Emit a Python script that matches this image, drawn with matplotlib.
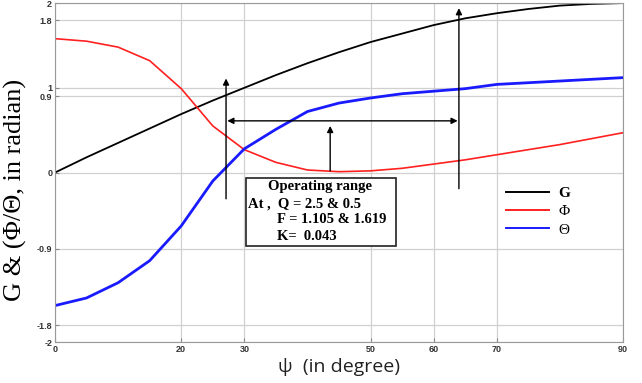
import numpy as np
import matplotlib
matplotlib.use('Agg')
import matplotlib.pyplot as plt
from matplotlib.patches import Rectangle

# углы (в градусах)
psi = [0, 5, 10, 15, 20, 25, 30, 35, 40, 45, 50, 55, 60, 65, 70, 75, 80, 85, 90]
# G
G = [0.0, 0.18, 0.35, 0.52, 0.69, 0.85, 1.0, 1.15, 1.29, 1.42, 1.54, 1.64, 1.74, 1.82,
     1.88, 1.93, 1.97, 1.99, 2.0]
# Phi
Phi = [1.58, 1.55, 1.48, 1.32, 0.99, 0.55, 0.27, 0.12, 0.03, 0.01, 0.02, 0.05, 0.10, 0.15,
       0.21, 0.27, 0.33, 0.40, 0.47]
# Theta
Theta = [-1.57, -1.48, -1.30, -1.04, -0.63, -0.10, 0.28, 0.51, 0.72, 0.82, 0.88, 0.93, 0.96,
         0.99, 1.04, 1.06, 1.08, 1.10, 1.12]

xticks = [0, 20, 30, 50, 60, 70, 90]
yticks = [-2, -1.8, -0.9, 0, 0.9, 1, 1.8, 2]
ytick_labels = ['-2', '-1.8', '-0.9', '0', '0.9', '1', '1.8', '2']

fig = plt.figure(figsize=(6.42, 3.83), dpi=100)
ax = fig.add_axes([0.0857, 0.107, 0.8847, 0.885])

ax.plot(psi, G, color='black', lw=1.3, label='G')
ax.plot(psi, Phi, color='#ff2020', lw=1.2, label='Φ')
ax.plot(psi, Theta, color='#1a1aff', lw=2.0, label='Θ')

ax.set_xlim(0, 90)
ax.set_ylim(-2, 2)
ax.set_xticks(xticks)
ax.set_yticks(yticks)
ax.set_yticklabels(ytick_labels)
ax.grid(True, color='#d0d0d0', lw=0.9)
ax.tick_params(direction='in', length=3, color='#888888', labelsize=6.5, pad=2)
for lab in ax.get_xticklabels() + ax.get_yticklabels():
    lab.set_fontweight('bold')
    lab.set_fontfamily('Liberation Sans')
    lab.set_color('#333333')
for sp in ax.spines.values():
    sp.set_color('#999999')

ax.set_xlabel('ψ  (in degree)', fontsize=14, family='Open Sans', color='#222222', labelpad=3)
ax.set_ylabel('G & (Φ/Θ, in radian)', fontsize=19, family='Liberation Serif')
ax.yaxis.set_label_coords(-0.049, 0.45)

# стрелки рабочего диапазона
ap = dict(arrowstyle='-|>', color='black', lw=1.0, mutation_scale=9, shrinkA=0, shrinkB=0)
ax.annotate('', xy=(27.1, 1.11), xytext=(27.1, -0.31), arrowprops=ap)
ax.annotate('', xy=(64.0, 1.94), xytext=(64.0, -0.19), arrowprops=ap)
ax.annotate('', xy=(43.6, 0.55), xytext=(43.6, 0.02), arrowprops=ap)
ap2 = dict(arrowstyle='<|-|>', color='black', lw=1.0, mutation_scale=9, shrinkA=0, shrinkB=0)
ax.annotate('', xy=(27.3, 0.61), xytext=(63.8, 0.61), arrowprops=ap2)

# рамка с текстом
ax.add_patch(Rectangle((30.3, -0.87), 23.7, 0.81, fill=True, facecolor='white',
                       edgecolor='#222222', lw=1.2, zorder=5))
tk = dict(family='Liberation Serif', fontsize=10.5, fontweight='bold', zorder=6, va='center')
ax.text(42.0, -0.16, 'Operating range', ha='center', **tk)
ax.text(30.5, -0.37, 'At ,  Q = 2.5 & 0.5', ha='left', **tk)
ax.text(35.2, -0.56, 'F = 1.105 & 1.619', ha='left', **tk)
ax.text(35.2, -0.76, 'K=  0.043', ha='left', **tk)

leg = ax.legend(loc='upper left', bbox_to_anchor=(0.77, 0.50), frameon=False,
                handlelength=2.8, labelspacing=0.3, handletextpad=0.6,
                prop={'family': 'Liberation Serif', 'size': 11})
for h in leg.get_lines():
    h.set_linewidth(1.4)
leg.get_texts()[0].set_fontweight('bold')

fig.savefig('out.png', dpi=100)
